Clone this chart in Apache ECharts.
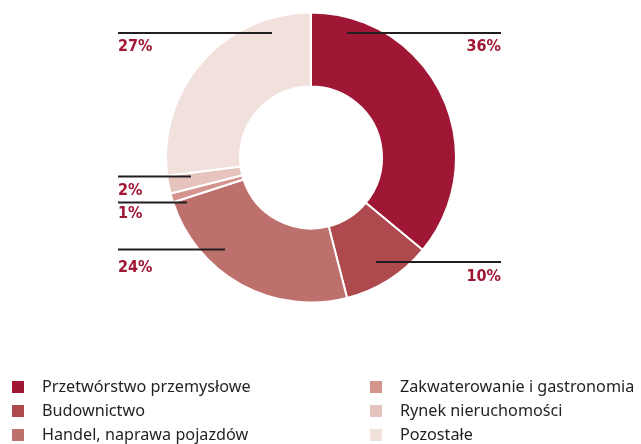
<!DOCTYPE html>
<html>
<head>
<meta charset="utf-8">
<script src="https://cdn.jsdelivr.net/npm/echarts@6/dist/echarts.min.js"></script>
<style>
  html, body { margin: 0; padding: 0; background: #fff; }
  #pie { width: 641px; height: 444px; }
</style>
</head>
<body>
<div id="pie"></div>
<script>
// udział branż, od góry zgodnie z ruchem wskazówek zegara
var categories = ['Przetwórstwo przemysłowe', 'Budownictwo', 'Handel, naprawa pojazdów',
                  'Zakwaterowanie i gastronomia', 'Rynek nieruchomości', 'Pozostałe'];
var shares = [36, 10, 24, 1, 2, 27];
var colors = ['#a01735', '#ae4a4e', '#be706c', '#d4958f', '#e6c3bd', '#f2e0dd'];

// gdzie stoją podpisy i kreski (styl, nie dane)
var spots = [
  { tx: 501, ty: 47,  align: 'right', lx0: 347, lx1: 501, ly: 33 },
  { tx: 501, ty: 277, align: 'right', lx0: 376, lx1: 501, ly: 262 },
  { tx: 118, ty: 268, align: 'left',  lx0: 225, lx1: 118, ly: 249.5 },
  { tx: 118, ty: 214, align: 'left',  lx0: 187, lx1: 118, ly: 202.5 },
  { tx: 118, ty: 191, align: 'left',  lx0: 191, lx1: 118, ly: 176.5 },
  { tx: 118, ty: 47,  align: 'left',  lx0: 272, lx1: 118, ly: 33 }
];

var chart = echarts.init(document.getElementById('pie'), null, { renderer: 'canvas' });

var legendText = {
  color: '#231f20',
  fontFamily: 'Noto Sans',
  fontSize: 16.2,
  lineHeight: 16,
  padding: [0, 0, 0, 13]
};

var pieData = categories.map(function (name, i) {
  return { name: name, value: shares[i] };
});

option = {
  backgroundColor: '#fff',
  animation: false,
  color: colors,
  legend: [
    {
      orient: 'vertical',
      left: 12, top: 379, height: 120,
      padding: 0,
      icon: 'rect',
      itemWidth: 12, itemHeight: 12, itemGap: 8,
      itemStyle: { borderWidth: 0 },
      selectedMode: false,
      textStyle: legendText,
      data: categories.slice(0, 3)
    },
    {
      orient: 'vertical',
      left: 370, top: 379, height: 120,
      padding: 0,
      icon: 'rect',
      itemWidth: 12, itemHeight: 12, itemGap: 8,
      itemStyle: { borderWidth: 0 },
      selectedMode: false,
      textStyle: legendText,
      data: categories.slice(3)
    }
  ],
  series: [
    {
      // wycinki
      type: 'pie',
      center: [311, 157.5],
      radius: [71, 145],
      startAngle: 90,
      clockwise: true,
      itemStyle: { borderColor: '#fff', borderWidth: 2 },
      label: { show: false },
      labelLine: { show: false },
      emphasis: { disabled: true },
      data: pieData
    },
    {
      // podpisy i kreski nad wycinkami
      type: 'pie',
      z: 5,
      silent: true,
      center: [311, 157.5],
      radius: [71, 145],
      startAngle: 90,
      clockwise: true,
      avoidLabelOverlap: false,
      itemStyle: { color: 'rgba(0,0,0,0)', borderWidth: 0 },
      label: {
        show: true,
        position: 'outside',
        formatter: '{c}%',
        color: '#a01735',
        fontFamily: "'DejaVu Sans Condensed', 'Liberation Sans Narrow', sans-serif",
        fontWeight: 'bold',
        fontSize: 16
      },
      labelLine: {
        show: true,
        lineStyle: { color: '#231f20', width: 2 }
      },
      labelLayout: function (params) {
        var s = spots[params.dataIndex];
        return {
          x: s.tx,
          y: s.ty,
          align: s.align,
          verticalAlign: 'middle',
          labelLinePoints: [[s.lx0, s.ly], [s.lx1, s.ly], [s.lx1, s.ly]]
        };
      },
      emphasis: { disabled: true },
      data: pieData
    }
  ]
};

chart.setOption(option);
</script>
</body>
</html>
